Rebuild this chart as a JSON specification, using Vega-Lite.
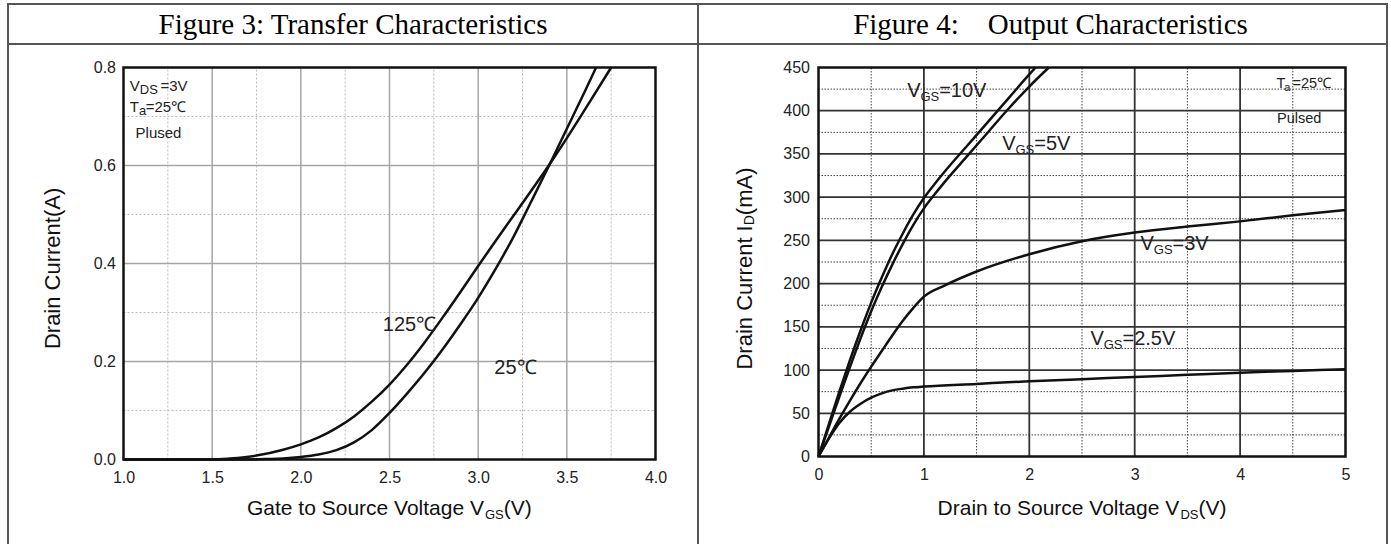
{
  "$schema": "https://vega.github.io/schema/vega-lite/v6.json",
  "padding": {"left": 7, "top": 3, "right": 0, "bottom": 0},
  "autosize": {"type": "pad"},
  "background": "white",
  "columns": 2,
  "spacing": 0,
  "bounds": "flush",
  "config": {
    "font": "Liberation Sans",
    "axis": {"grid": false, "ticks": false, "domain": false, "labelFont": "Liberation Sans", "labelFontSize": 16, "labelColor": "#222", "labelOverlap": false, "labelBound": false, "labelFlush": false, "tickSize": 0}
  },
  "concat": [
    {
      "width": 690, "height": 40,
      "view": {"stroke": "#555", "strokeWidth": 2},
      "data": {"values": [{"t": "Figure 3: Transfer Characteristics"}]},
      "mark": {"type": "text", "font": "Liberation Serif", "fontSize": 29, "baseline": "middle", "dy": 1, "color": "#000"},
      "encoding": {"text": {"field": "t"}}
    },
    {
      "width": 689, "height": 40,
      "view": {"stroke": "#555", "strokeWidth": 2},
      "data": {"values": [{"t": "Figure 4:\u00a0\u00a0\u00a0\u00a0Output Characteristics"}]},
      "mark": {"type": "text", "font": "Liberation Serif", "fontSize": 29, "baseline": "middle", "dy": 1, "dx": 8, "color": "#000"},
      "encoding": {"text": {"field": "t"}}
    },
    {
      "width": 690, "height": 503,
      "view": {"stroke": "#555", "strokeWidth": 2},
      "resolve": {"axis": {"x": "independent", "y": "independent"}},
      "layer": [
        {
          "data": {"values": [{"v": 1.25}, {"v": 1.75}, {"v": 2.25}, {"v": 2.75}, {"v": 3.25}, {"v": 3.75}]},
          "mark": {"type": "rule", "color": "#bbb", "strokeWidth": 1, "strokeDash": [2, 2]},
          "encoding": {
            "x": {"field": "v", "type": "quantitative", "scale": {"domain": [1, 4], "range": [115.5, 647.5], "nice": false, "zero": false}, "axis": null},
            "y": {"datum": 0, "type": "quantitative", "scale": {"domain": [0, 0.8], "range": [415.5, 23.5], "nice": false, "zero": false}, "axis": null},
            "y2": {"datum": 0.8}
          }
        },
        {
          "data": {"values": [{"v": 0.1}, {"v": 0.3}, {"v": 0.5}, {"v": 0.7}]},
          "mark": {"type": "rule", "color": "#bbb", "strokeWidth": 1, "strokeDash": [2, 2]},
          "encoding": {
            "y": {"field": "v", "type": "quantitative", "scale": {"domain": [0, 0.8], "range": [415.5, 23.5], "nice": false, "zero": false}, "axis": null},
            "x": {"datum": 1, "type": "quantitative", "scale": {"domain": [1, 4], "range": [115.5, 647.5], "nice": false, "zero": false}, "axis": null},
            "x2": {"datum": 4}
          }
        },
        {
          "data": {"values": [{"v": 1.5}, {"v": 2.0}, {"v": 2.5}, {"v": 3.0}, {"v": 3.5}]},
          "mark": {"type": "rule", "color": "#a6a6a6", "strokeWidth": 1.5},
          "encoding": {
            "x": {"field": "v", "type": "quantitative", "scale": {"domain": [1, 4], "range": [115.5, 647.5], "nice": false, "zero": false}, "axis": null},
            "y": {"datum": 0, "type": "quantitative", "scale": {"domain": [0, 0.8], "range": [415.5, 23.5], "nice": false, "zero": false}, "axis": null},
            "y2": {"datum": 0.8}
          }
        },
        {
          "data": {"values": [{"v": 0.2}, {"v": 0.4}, {"v": 0.6}]},
          "mark": {"type": "rule", "color": "#a6a6a6", "strokeWidth": 1.5},
          "encoding": {
            "y": {"field": "v", "type": "quantitative", "scale": {"domain": [0, 0.8], "range": [415.5, 23.5], "nice": false, "zero": false}, "axis": null},
            "x": {"datum": 1, "type": "quantitative", "scale": {"domain": [1, 4], "range": [115.5, 647.5], "nice": false, "zero": false}, "axis": null},
            "x2": {"datum": 4}
          }
        },
        {
          "data": {"values": [
            {"s": "125", "x": 1.0, "y": 0}, {"s": "125", "x": 1.5, "y": 0}, {"s": "125", "x": 1.6, "y": 0.002}, {"s": "125", "x": 1.75, "y": 0.008}, {"s": "125", "x": 1.9, "y": 0.02}, {"s": "125", "x": 2.0, "y": 0.031}, {"s": "125", "x": 2.1, "y": 0.045}, {"s": "125", "x": 2.2, "y": 0.064}, {"s": "125", "x": 2.3, "y": 0.088}, {"s": "125", "x": 2.4, "y": 0.118}, {"s": "125", "x": 2.5, "y": 0.153}, {"s": "125", "x": 2.6, "y": 0.194}, {"s": "125", "x": 2.7, "y": 0.24}, {"s": "125", "x": 2.8, "y": 0.29}, {"s": "125", "x": 2.9, "y": 0.342}, {"s": "125", "x": 3.0, "y": 0.395}, {"s": "125", "x": 3.1, "y": 0.447}, {"s": "125", "x": 3.2, "y": 0.498}, {"s": "125", "x": 3.3, "y": 0.549}, {"s": "125", "x": 3.4, "y": 0.601}, {"s": "125", "x": 3.5, "y": 0.656}, {"s": "125", "x": 3.6, "y": 0.713}, {"s": "125", "x": 3.75, "y": 0.8},
            {"s": "25", "x": 1.0, "y": 0}, {"s": "25", "x": 1.7, "y": 0}, {"s": "25", "x": 1.8, "y": 0.001}, {"s": "25", "x": 1.9, "y": 0.002}, {"s": "25", "x": 2.0, "y": 0.005}, {"s": "25", "x": 2.1, "y": 0.01}, {"s": "25", "x": 2.2, "y": 0.019}, {"s": "25", "x": 2.3, "y": 0.035}, {"s": "25", "x": 2.4, "y": 0.06}, {"s": "25", "x": 2.5, "y": 0.095}, {"s": "25", "x": 2.6, "y": 0.135}, {"s": "25", "x": 2.7, "y": 0.178}, {"s": "25", "x": 2.8, "y": 0.225}, {"s": "25", "x": 2.9, "y": 0.276}, {"s": "25", "x": 3.0, "y": 0.33}, {"s": "25", "x": 3.1, "y": 0.39}, {"s": "25", "x": 3.2, "y": 0.455}, {"s": "25", "x": 3.3, "y": 0.527}, {"s": "25", "x": 3.4, "y": 0.6}, {"s": "25", "x": 3.5, "y": 0.675}, {"s": "25", "x": 3.6, "y": 0.75}, {"s": "25", "x": 3.665, "y": 0.8}
          ]},
          "mark": {"type": "line", "color": "#111", "strokeWidth": 2.5, "interpolate": "monotone"},
          "encoding": {
            "x": {"field": "x", "type": "quantitative", "scale": {"domain": [1, 4], "range": [115.5, 647.5], "nice": false, "zero": false},
                  "axis": {"values": [1, 1.5, 2, 2.5, 3, 3.5, 4], "format": ".1f", "offset": -87.5, "labelPadding": 10, "title": null}},
            "y": {"field": "y", "type": "quantitative", "scale": {"domain": [0, 0.8], "range": [415.5, 23.5], "nice": false, "zero": false},
                  "axis": {"values": [0, 0.2, 0.4, 0.6, 0.8], "format": ".1f", "offset": -115.5, "labelPadding": 8, "title": null}},
            "detail": {"field": "s"}
          }
        },
        {
          "data": {"values": [{}]},
          "mark": {"type": "rect", "fill": "transparent", "stroke": "#111", "strokeWidth": 2.5},
          "encoding": {
            "x": {"datum": 1, "type": "quantitative", "scale": {"domain": [1, 4], "range": [115.5, 647.5], "nice": false, "zero": false}, "axis": null},
            "x2": {"datum": 4},
            "y": {"datum": 0, "type": "quantitative", "scale": {"domain": [0, 0.8], "range": [415.5, 23.5], "nice": false, "zero": false}, "axis": null},
            "y2": {"datum": 0.8}
          }
        },
        {
          "data": {"values": [
            {"x": 1.0355, "y": 0.763, "t": "V"}, {"x": 1.2087, "y": 0.763, "t": "=3V"},
            {"x": 1.0355, "y": 0.7198, "t": "T"}, {"x": 1.125, "y": 0.7198, "t": "=25℃"},
            {"x": 1.068, "y": 0.667, "t": "Plused"}
          ]},
          "mark": {"type": "text", "align": "left", "baseline": "middle", "fontSize": 15, "color": "#222"},
          "encoding": {
            "x": {"field": "x", "type": "quantitative", "axis": null},
            "y": {"field": "y", "type": "quantitative", "axis": null},
            "text": {"field": "t"}
          }
        },
        {
          "data": {"values": [{"x": 1.0919, "y": 0.763, "t": "DS"}, {"x": 1.0874, "y": 0.7198, "t": "a"}]},
          "mark": {"type": "text", "align": "left", "baseline": "middle", "fontSize": 13, "dy": 4, "color": "#222"},
          "encoding": {
            "x": {"field": "x", "type": "quantitative", "axis": null},
            "y": {"field": "y", "type": "quantitative", "axis": null},
            "text": {"field": "t"}
          }
        },
        {
          "data": {"values": [{"x": 2.613, "y": 0.2735, "t": "125℃"}, {"x": 3.21, "y": 0.186, "t": "25℃"}]},
          "mark": {"type": "text", "align": "center", "baseline": "middle", "fontSize": 20, "color": "#222"},
          "encoding": {
            "x": {"field": "x", "type": "quantitative", "axis": null},
            "y": {"field": "y", "type": "quantitative", "axis": null},
            "text": {"field": "t"}
          }
        },
        {
          "data": {"values": [{"x": 1.6964, "y": -0.1, "t": "Gate to Source Voltage V"}, {"x": 3.1447, "y": -0.1, "t": "(V)"}]},
          "mark": {"type": "text", "align": "left", "baseline": "middle", "fontSize": 21, "color": "#111"},
          "encoding": {
            "x": {"field": "x", "type": "quantitative", "axis": null},
            "y": {"field": "y", "type": "quantitative", "axis": null},
            "text": {"field": "t"}
          }
        },
        {
          "data": {"values": [{"x": 3.0386, "y": -0.1, "t": "GS"}]},
          "mark": {"type": "text", "align": "left", "baseline": "middle", "fontSize": 13, "dy": 6, "color": "#111"},
          "encoding": {
            "x": {"field": "x", "type": "quantitative", "axis": null},
            "y": {"field": "y", "type": "quantitative", "axis": null},
            "text": {"field": "t"}
          }
        },
        {
          "data": {"values": [{"x": 0.6024, "y": 0.39, "t": "Drain Current(A)"}]},
          "mark": {"type": "text", "align": "center", "baseline": "middle", "fontSize": 22, "angle": 270, "color": "#111"},
          "encoding": {
            "x": {"field": "x", "type": "quantitative", "axis": null},
            "y": {"field": "y", "type": "quantitative", "axis": null},
            "text": {"field": "t"}
          }
        }
      ]
    },
    {
      "width": 689, "height": 503,
      "view": {"stroke": "#555", "strokeWidth": 2},
      "resolve": {"axis": {"x": "independent", "y": "independent"}},
      "layer": [
        {
          "data": {"values": [{"v": 0.5}, {"v": 1.5}, {"v": 2.5}, {"v": 3.5}, {"v": 4.5}]},
          "mark": {"type": "rule", "color": "#444", "strokeWidth": 1, "strokeDash": [1.5, 1.5]},
          "encoding": {
            "x": {"field": "v", "type": "quantitative", "scale": {"domain": [0, 5], "range": [120.5, 647.5], "nice": false, "zero": false}, "axis": null},
            "y": {"datum": 0, "type": "quantitative", "scale": {"domain": [0, 450], "range": [412.5, 23.5], "nice": false, "zero": false}, "axis": null},
            "y2": {"datum": 450}
          }
        },
        {
          "data": {"values": [{"v": 25}, {"v": 75}, {"v": 125}, {"v": 175}, {"v": 225}, {"v": 275}, {"v": 325}, {"v": 375}, {"v": 425}]},
          "mark": {"type": "rule", "color": "#444", "strokeWidth": 1, "strokeDash": [1.5, 1.5]},
          "encoding": {
            "y": {"field": "v", "type": "quantitative", "scale": {"domain": [0, 450], "range": [412.5, 23.5], "nice": false, "zero": false}, "axis": null},
            "x": {"datum": 0, "type": "quantitative", "scale": {"domain": [0, 5], "range": [120.5, 647.5], "nice": false, "zero": false}, "axis": null},
            "x2": {"datum": 5}
          }
        },
        {
          "data": {"values": [{"v": 1}, {"v": 2}, {"v": 3}, {"v": 4}]},
          "mark": {"type": "rule", "color": "#333", "strokeWidth": 1.8},
          "encoding": {
            "x": {"field": "v", "type": "quantitative", "scale": {"domain": [0, 5], "range": [120.5, 647.5], "nice": false, "zero": false}, "axis": null},
            "y": {"datum": 0, "type": "quantitative", "scale": {"domain": [0, 450], "range": [412.5, 23.5], "nice": false, "zero": false}, "axis": null},
            "y2": {"datum": 450}
          }
        },
        {
          "data": {"values": [{"v": 50}, {"v": 100}, {"v": 150}, {"v": 200}, {"v": 250}, {"v": 300}, {"v": 350}, {"v": 400}]},
          "mark": {"type": "rule", "color": "#333", "strokeWidth": 1.8},
          "encoding": {
            "y": {"field": "v", "type": "quantitative", "scale": {"domain": [0, 450], "range": [412.5, 23.5], "nice": false, "zero": false}, "axis": null},
            "x": {"datum": 0, "type": "quantitative", "scale": {"domain": [0, 5], "range": [120.5, 647.5], "nice": false, "zero": false}, "axis": null},
            "x2": {"datum": 5}
          }
        },
        {
          "data": {"values": [
            {"s": "10", "x": 0, "y": 0}, {"s": "10", "x": 0.1, "y": 38}, {"s": "10", "x": 0.2, "y": 76}, {"s": "10", "x": 0.3, "y": 112}, {"s": "10", "x": 0.4, "y": 146}, {"s": "10", "x": 0.5, "y": 178}, {"s": "10", "x": 0.6, "y": 207}, {"s": "10", "x": 0.7, "y": 234}, {"s": "10", "x": 0.8, "y": 258}, {"s": "10", "x": 0.9, "y": 280}, {"s": "10", "x": 1.0, "y": 299}, {"s": "10", "x": 1.1, "y": 315}, {"s": "10", "x": 1.2, "y": 330}, {"s": "10", "x": 1.4, "y": 358}, {"s": "10", "x": 1.6, "y": 386}, {"s": "10", "x": 1.8, "y": 414}, {"s": "10", "x": 2.0, "y": 442}, {"s": "10", "x": 2.06, "y": 450},
            {"s": "5", "x": 0, "y": 0}, {"s": "5", "x": 0.1, "y": 35}, {"s": "5", "x": 0.2, "y": 70}, {"s": "5", "x": 0.3, "y": 104}, {"s": "5", "x": 0.4, "y": 137}, {"s": "5", "x": 0.5, "y": 168}, {"s": "5", "x": 0.6, "y": 196}, {"s": "5", "x": 0.7, "y": 222}, {"s": "5", "x": 0.8, "y": 246}, {"s": "5", "x": 0.9, "y": 268}, {"s": "5", "x": 1.0, "y": 287}, {"s": "5", "x": 1.1, "y": 303}, {"s": "5", "x": 1.2, "y": 318}, {"s": "5", "x": 1.4, "y": 346}, {"s": "5", "x": 1.6, "y": 374}, {"s": "5", "x": 1.8, "y": 402}, {"s": "5", "x": 2.0, "y": 428}, {"s": "5", "x": 2.185, "y": 450},
            {"s": "3", "x": 0, "y": 0}, {"s": "3", "x": 0.1, "y": 22}, {"s": "3", "x": 0.2, "y": 44}, {"s": "3", "x": 0.3, "y": 65}, {"s": "3", "x": 0.4, "y": 85}, {"s": "3", "x": 0.5, "y": 104}, {"s": "3", "x": 0.6, "y": 122}, {"s": "3", "x": 0.7, "y": 140}, {"s": "3", "x": 0.8, "y": 157}, {"s": "3", "x": 0.9, "y": 172}, {"s": "3", "x": 1.0, "y": 185}, {"s": "3", "x": 1.2, "y": 198}, {"s": "3", "x": 1.5, "y": 214}, {"s": "3", "x": 2.0, "y": 234}, {"s": "3", "x": 2.5, "y": 249}, {"s": "3", "x": 3.0, "y": 259}, {"s": "3", "x": 3.5, "y": 266}, {"s": "3", "x": 4.0, "y": 272}, {"s": "3", "x": 4.5, "y": 279}, {"s": "3", "x": 5.0, "y": 285},
            {"s": "2.5", "x": 0, "y": 0}, {"s": "2.5", "x": 0.1, "y": 21}, {"s": "2.5", "x": 0.2, "y": 39}, {"s": "2.5", "x": 0.3, "y": 52}, {"s": "2.5", "x": 0.4, "y": 61}, {"s": "2.5", "x": 0.5, "y": 68}, {"s": "2.5", "x": 0.6, "y": 73}, {"s": "2.5", "x": 0.7, "y": 76.5}, {"s": "2.5", "x": 0.8, "y": 78.5}, {"s": "2.5", "x": 0.9, "y": 80}, {"s": "2.5", "x": 1.0, "y": 81}, {"s": "2.5", "x": 1.5, "y": 84}, {"s": "2.5", "x": 2.0, "y": 87}, {"s": "2.5", "x": 2.5, "y": 89.5}, {"s": "2.5", "x": 3.0, "y": 92}, {"s": "2.5", "x": 3.5, "y": 94.5}, {"s": "2.5", "x": 4.0, "y": 97}, {"s": "2.5", "x": 4.5, "y": 99}, {"s": "2.5", "x": 5.0, "y": 101}
          ]},
          "mark": {"type": "line", "color": "#111", "strokeWidth": 2.5, "interpolate": "monotone"},
          "encoding": {
            "x": {"field": "x", "type": "quantitative", "scale": {"domain": [0, 5], "range": [120.5, 647.5], "nice": false, "zero": false},
                  "axis": {"values": [0, 1, 2, 3, 4, 5], "format": "d", "offset": -90.5, "labelPadding": 10, "title": null}},
            "y": {"field": "y", "type": "quantitative", "scale": {"domain": [0, 450], "range": [412.5, 23.5], "nice": false, "zero": false},
                  "axis": {"values": [0, 50, 100, 150, 200, 250, 300, 350, 400, 450], "format": "d", "offset": -120.5, "labelPadding": 9, "title": null}},
            "detail": {"field": "s"}
          }
        },
        {
          "data": {"values": [{}]},
          "mark": {"type": "rect", "fill": "transparent", "stroke": "#111", "strokeWidth": 2.5},
          "encoding": {
            "x": {"datum": 0, "type": "quantitative", "scale": {"domain": [0, 5], "range": [120.5, 647.5], "nice": false, "zero": false}, "axis": null},
            "x2": {"datum": 5},
            "y": {"datum": 0, "type": "quantitative", "scale": {"domain": [0, 450], "range": [412.5, 23.5], "nice": false, "zero": false}, "axis": null},
            "y2": {"datum": 450}
          }
        },
        {
          "data": {"values": [
            {"x": 0.841, "y": 422.8, "t": "V"}, {"x": 1.145, "y": 422.8, "t": "=10V"},
            {"x": 1.743, "y": 361.7, "t": "V"}, {"x": 2.047, "y": 361.7, "t": "=5V"},
            {"x": 3.055, "y": 245.3, "t": "V"}, {"x": 3.359, "y": 245.3, "t": "=3V"},
            {"x": 2.58, "y": 136, "t": "V"}, {"x": 2.884, "y": 136, "t": "=2.5V"}
          ]},
          "mark": {"type": "text", "align": "left", "baseline": "middle", "fontSize": 20, "color": "#222"},
          "encoding": {
            "x": {"field": "x", "type": "quantitative", "axis": null},
            "y": {"field": "y", "type": "quantitative", "axis": null},
            "text": {"field": "t"}
          }
        },
        {
          "data": {"values": [
            {"x": 0.967, "y": 422.8, "t": "GS"}, {"x": 1.869, "y": 361.7, "t": "GS"}, {"x": 3.181, "y": 245.3, "t": "GS"}, {"x": 2.706, "y": 136, "t": "GS"}
          ]},
          "mark": {"type": "text", "align": "left", "baseline": "middle", "fontSize": 13, "dy": 6, "color": "#222"},
          "encoding": {
            "x": {"field": "x", "type": "quantitative", "axis": null},
            "y": {"field": "y", "type": "quantitative", "axis": null},
            "text": {"field": "t"}
          }
        },
        {
          "data": {"values": [{"x": 4.345, "y": 431, "t": "T"}, {"x": 4.497, "y": 431, "t": "=25℃"}, {"x": 4.35, "y": 391, "t": "Pulsed"}]},
          "mark": {"type": "text", "align": "left", "baseline": "middle", "fontSize": 14.5, "color": "#222"},
          "encoding": {
            "x": {"field": "x", "type": "quantitative", "axis": null},
            "y": {"field": "y", "type": "quantitative", "axis": null},
            "text": {"field": "t"}
          }
        },
        {
          "data": {"values": [{"x": 4.42, "y": 431, "t": "a"}]},
          "mark": {"type": "text", "align": "left", "baseline": "middle", "fontSize": 11, "dy": 4, "color": "#222"},
          "encoding": {
            "x": {"field": "x", "type": "quantitative", "axis": null},
            "y": {"field": "y", "type": "quantitative", "axis": null},
            "text": {"field": "t"}
          }
        },
        {
          "data": {"values": [{"x": 1.13, "y": -60.2, "t": "Drain to Source Voltage V"}, {"x": 3.605, "y": -60.2, "t": "(V)"}]},
          "mark": {"type": "text", "align": "left", "baseline": "middle", "fontSize": 21, "color": "#111"},
          "encoding": {
            "x": {"field": "x", "type": "quantitative", "axis": null},
            "y": {"field": "y", "type": "quantitative", "axis": null},
            "text": {"field": "t"}
          }
        },
        {
          "data": {"values": [{"x": 3.434, "y": -60.2, "t": "DS"}]},
          "mark": {"type": "text", "align": "left", "baseline": "middle", "fontSize": 13, "dy": 6, "color": "#111"},
          "encoding": {
            "x": {"field": "x", "type": "quantitative", "axis": null},
            "y": {"field": "y", "type": "quantitative", "axis": null},
            "text": {"field": "t"}
          }
        },
        {
          "data": {"values": [{"x": -0.6926, "y": 100.6, "t": "Drain Current I"}, {"x": -0.6926, "y": 279.2, "t": "(mA)"}]},
          "mark": {"type": "text", "align": "left", "baseline": "middle", "fontSize": 22, "angle": 270, "color": "#111"},
          "encoding": {
            "x": {"field": "x", "type": "quantitative", "axis": null},
            "y": {"field": "y", "type": "quantitative", "axis": null},
            "text": {"field": "t"}
          }
        },
        {
          "data": {"values": [{"x": -0.6926, "y": 267.6, "t": "D"}]},
          "mark": {"type": "text", "align": "left", "baseline": "middle", "fontSize": 14, "angle": 270, "dy": 5, "color": "#111"},
          "encoding": {
            "x": {"field": "x", "type": "quantitative", "axis": null},
            "y": {"field": "y", "type": "quantitative", "axis": null},
            "text": {"field": "t"}
          }
        }
      ]
    }
  ]
}
